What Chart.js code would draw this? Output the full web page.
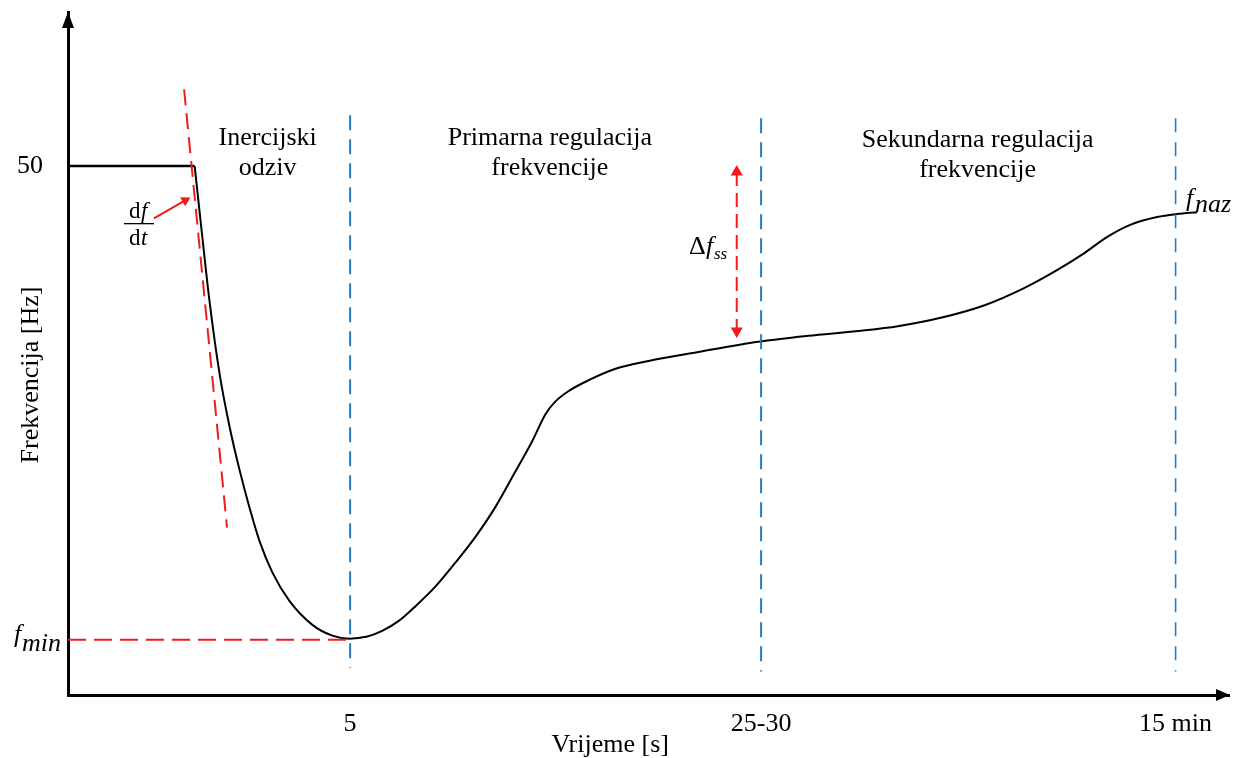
<!DOCTYPE html>
<html>
<head>
<meta charset="utf-8">
<title>Frekvencija nakon ispada</title>
<script src="https://cdn.jsdelivr.net/npm/chart.js@4.4.1/dist/chart.umd.min.js"></script>
<style>
  html, body { margin: 0; padding: 0; background: #fff; overflow: hidden; }
  #wrap { width: 1236px; height: 758px; position: relative; }
</style>
</head>
<body>
<div id="wrap"><canvas id="freq-chart"></canvas></div>
<script>
/* ──────────────────────────────────
   Data (time axis is schematic, 0..100)
   ────────────────────────────────── */
var flatT = [0, 10.9];
var flatF = [50, 50];

var curveT = [10.91, 11.34, 12.20, 13.06, 13.92, 14.78, 15.64, 16.49, 17.61, 19.07, 21.05, 22.77, 24.23,
  25.69, 27.06, 28.52, 29.98, 31.70, 33.42, 35.14, 36.86, 38.57, 39.95, 41.15, 42.01, 43.13, 44.85,
  47.16, 50.00, 54.30, 59.45, 63.75, 68.04, 71.48, 75.17, 78.95, 82.39, 85.22, 87.54, 89.52, 91.49,
  93.81, 95.53, 97.25];
var curveF = [50.0, 49.923, 49.773, 49.653, 49.565, 49.493, 49.43, 49.375, 49.322, 49.275, 49.235,
  49.217, 49.212, 49.215, 49.225, 49.242, 49.267, 49.30, 49.34, 49.383, 49.433, 49.492, 49.54,
  49.587, 49.608, 49.625, 49.643, 49.662, 49.675, 49.69, 49.707, 49.717, 49.725, 49.733, 49.747,
  49.768, 49.797, 49.827, 49.855, 49.882, 49.902, 49.915, 49.92, 49.923];

// vertical markers (5 s, 25-30 s, 15 min)
var markT = [24.3, 59.7, 95.4];
var markLabels = ['5', '25-30', '15 min'];
var markTop = [50.085, 50.08, 50.08];
var markBottom = [49.163, 49.157, 49.157];

var fMin = 49.21;
var fMinT = [0, 24.2];

// df/dt tangent
var tangentT = [10.0, 13.7];
var tangentF = [50.128, 49.397];

// df/dt pointer arrow
var pointerT = [7.4, 10.1];
var pointerF = [49.913, 49.943];

// delta f_ss arrow
var deltaT = [57.6, 57.6];
var deltaF = [49.99, 49.725];

var yTicks = [50];
var yTickLabels = ['50'];

var FONT = '"Liberation Serif", "Times New Roman", serif';
var RED = '#f21b1b';
var BLUE = '#1f7cc4';

function pts(xs, ys) {
  return xs.map(function (x, i) { return { x: x, y: ys[i] }; });
}

function vline(i, width, dash) {
  return {
    data: pts([markT[i], markT[i]], [markTop[i], markBottom[i]]),
    borderColor: BLUE,
    borderWidth: width,
    borderDash: dash,
    pointRadius: 0
  };
}

/* ──────────────────────────────────
   Text + arrowheads
   ────────────────────────────────── */
function arrowHead(ctx, x, y, dx, dy, len, half) {
  var bx = x - dx * len, by = y - dy * len;
  ctx.beginPath();
  ctx.moveTo(x, y);
  ctx.lineTo(bx - dy * half, by + dx * half);
  ctx.lineTo(bx + dy * half, by - dx * half);
  ctx.closePath();
  ctx.fill();
}

var annotations = {
  id: 'freqAnnotations',
  afterDraw: function (chart) {
    var ctx = chart.ctx;
    var area = chart.chartArea;
    var xs = chart.scales.x;
    var ys = chart.scales.y;

    ctx.save();
    ctx.fillStyle = '#000';

    // axis arrows
    arrowHead(ctx, area.left, area.top, 0, -1, 16, 6);
    arrowHead(ctx, area.right + 1, area.bottom, 1, 0, 14, 6);

    // region captions
    ctx.font = '26px ' + FONT;
    ctx.textAlign = 'center';
    ctx.textBaseline = 'alphabetic';
    ctx.fillText('Inercijski', xs.getPixelForValue(17.2), 145);
    ctx.fillText('odziv', xs.getPixelForValue(17.2), 175);
    ctx.fillText('Primarna regulacija', xs.getPixelForValue(41.5), 145);
    ctx.fillText('frekvencije', xs.getPixelForValue(41.5), 175);
    ctx.fillText('Sekundarna regulacija', xs.getPixelForValue(78.35), 147);
    ctx.fillText('frekvencije', xs.getPixelForValue(78.35), 177);

    // axis titles
    ctx.fillText('Vrijeme [s]', xs.getPixelForValue(46.7), 752);
    ctx.save();
    ctx.translate(38, 375);
    ctx.rotate(-Math.PI / 2);
    ctx.fillText('Frekvencija [Hz]', 0, 0);
    ctx.restore();

    // f_min
    var yMin = ys.getPixelForValue(fMin);
    ctx.textAlign = 'left';
    ctx.font = 'italic 26px ' + FONT;
    ctx.fillText('f', 14, yMin + 2);
    ctx.fillText('min', 22, yMin + 11);

    // f_naz
    var xEnd = xs.getPixelForValue(curveT[curveT.length - 1]);
    var yEnd = ys.getPixelForValue(curveF[curveF.length - 1]);
    ctx.fillText('f', xEnd - 11, yEnd - 6);
    ctx.fillText('naz', xEnd - 2, yEnd + 0);

    // delta f_ss
    ctx.font = '26px ' + FONT;
    ctx.fillText('\u0394', 689, 254);
    ctx.font = 'italic 26px ' + FONT;
    ctx.fillText('f', 706, 254);
    ctx.font = 'italic 17px ' + FONT;
    ctx.fillText('ss', 714, 259);

    // df/dt fraction
    ctx.font = '23px ' + FONT;
    ctx.fillText('d', 129, 218);
    ctx.fillText('d', 129, 245);
    ctx.font = 'italic 23px ' + FONT;
    ctx.fillText('f', 141, 218);
    ctx.fillText('t', 141, 245);
    ctx.fillRect(124, 223, 30, 1.3);

    ctx.restore();
  }
};

/* ──────────────────────────────────
   Chart
   ────────────────────────────────── */
var ctx = document.getElementById('freq-chart');

new Chart(ctx.getContext('2d'), {
  type: 'line',
  data: {
    datasets: [
      vline(0, 2, [15, 9]),
      vline(1, 2, [15, 9]),
      vline(2, 1.6, [14, 10]),
      {
        data: pts(tangentT, tangentF),
        borderColor: RED,
        borderWidth: 2,
        borderDash: [16, 8],
        pointRadius: 0
      },
      {
        data: pts(fMinT, [fMin, fMin]),
        borderColor: RED,
        borderWidth: 2,
        borderDash: [18, 8],
        pointRadius: 0
      },
      {
        data: pts(deltaT, deltaF),
        borderColor: RED,
        borderWidth: 2,
        borderDash: [14, 7],
        pointStyle: 'triangle',
        pointRadius: 7,
        pointRotation: [0, 180],
        pointBackgroundColor: RED,
        pointBorderWidth: 0
      },
      {
        data: pts(pointerT, pointerF),
        borderColor: RED,
        borderWidth: 2,
        pointStyle: 'triangle',
        pointRadius: [0, 6],
        pointRotation: [0, 61],
        pointBackgroundColor: RED,
        pointBorderWidth: 0
      },
      {
        data: pts(flatT, flatF),
        borderColor: '#000',
        borderWidth: 2.5,
        pointRadius: 0
      },
      {
        data: pts(curveT, curveF),
        borderColor: '#000',
        borderWidth: 2,
        cubicInterpolationMode: 'monotone',
        pointRadius: 0
      }
    ]
  },
  options: {
    responsive: true,
    maintainAspectRatio: false,
    animation: false,
    events: [],
    layout: { padding: { top: 12, right: 4, left: 0, bottom: 0 } },
    plugins: {
      legend: { display: false },
      title: { display: false },
      tooltip: { enabled: false }
    },
    scales: {
      x: {
        type: 'linear',
        min: 0,
        max: 100,
        grid: { display: false, drawTicks: false },
        border: { display: true, color: '#000', width: 3 },
        ticks: {
          autoSkip: false,
          maxRotation: 0,
          padding: 14,
          color: '#000',
          font: { family: FONT, size: 26 },
          callback: function (v, i) { return markLabels[i]; }
        },
        afterBuildTicks: function (scale) {
          scale.ticks = markT.map(function (v) { return { value: v }; });
        },
        afterFit: function (scale) {
          scale.height = 63;
          scale.paddingLeft = 0;
          scale.paddingRight = 0;
        }
      },
      y: {
        type: 'linear',
        min: 49.118,
        max: 50.257,
        grid: { display: false, drawTicks: false },
        border: { display: true, color: '#000', width: 3 },
        ticks: {
          padding: 25,
          color: '#000',
          font: { family: FONT, size: 26 },
          callback: function (v, i) { return yTickLabels[i]; }
        },
        afterBuildTicks: function (scale) {
          scale.ticks = yTicks.map(function (v) { return { value: v }; });
        },
        afterFit: function (scale) {
          scale.width = 68;
          scale.paddingTop = 0;
          scale.paddingBottom = 0;
        }
      }
    }
  },
  plugins: [annotations]
});
</script>
</body>
</html>
